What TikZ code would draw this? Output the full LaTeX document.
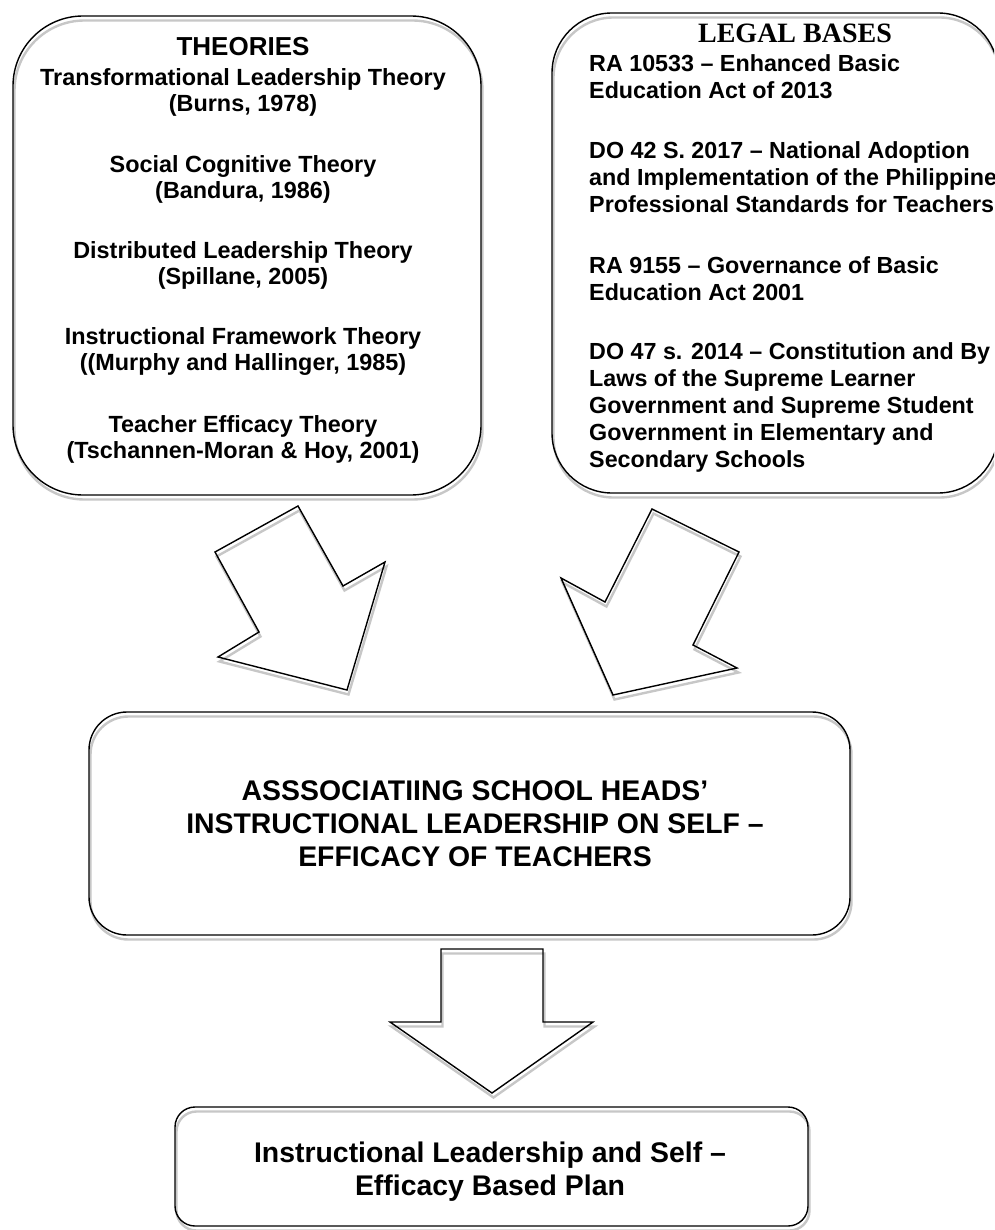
\documentclass[tikz,border=0pt]{standalone}
\usepackage{fontspec}
\setmainfont{Liberation Sans}
\newfontfamily\headserif{Liberation Serif}
\begin{document}
\begin{tikzpicture}[x=1pt,y=-1pt,
  panel/.style={draw=black, line width=1.4pt, inner sep=0pt},
  panelshadow/.style={draw=black!22, line width=2.4pt, inner sep=0pt, xshift=1.5pt, yshift=-4.5pt},
  blockarrow/.style={draw=black, line width=1.4pt, line join=miter},
  arrowshadow/.style={draw=black!22, line width=2.4pt, shift={(1.5,4.5)}},
  headsans/.style={font=\bfseries\fontsize{26}{30}\selectfont},
  headrm/.style={font=\headserif\bfseries\fontsize{28}{32}\selectfont},
  theory/.style={align=center, inner sep=0pt, font=\bfseries\fontsize{23.4}{26}\selectfont},
  legal/.style={align=left, anchor=west, inner sep=0pt, font=\bfseries\fontsize{23.3}{27}\selectfont},
  bigtext/.style={align=center, inner sep=0pt, font=\bfseries\fontsize{28.4}{33}\selectfont}
]
\useasboundingbox (0,0) rectangle (994,1230);
\clip (0,0) rectangle (994,1230);
\fill[white] (0,0) rectangle (994,1230);

% ---- theories panel ----
\node[panelshadow, rounded corners=70pt, minimum width=468pt, minimum height=479pt] (theoriesS) at (247,255.5) {};
\node[panel, rounded corners=70pt, minimum width=468pt, minimum height=479pt] (theories) at (247,255.5) {};
\node[headsans] (thead) at (243,47) {THEORIES};
\node[theory] (th1) at (243,92) {Transformational Leadership Theory\\(Burns, 1978)};
\node[theory] (th2) at (243,179) {Social Cognitive Theory\\(Bandura, 1986)};
\node[theory] (th3) at (243,265) {Distributed Leadership Theory\\(Spillane, 2005)};
\node[theory] (th4) at (243,352) {Instructional Framework Theory\\((Murphy and Hallinger, 1985)};
\node[theory] (th5) at (243,439) {Teacher Efficacy Theory\\(Tschannen-Moran \& Hoy, 2001)};

% ---- legal bases panel ----
\node[panelshadow, rounded corners=60pt, minimum width=446pt, minimum height=480pt] (legalS) at (775,253) {};
\node[panel, rounded corners=60pt, minimum width=446pt, minimum height=480pt] (legalbox) at (775,253) {};
\node[headrm] (lhead) at (795,33) {LEGAL BASES};
\node[legal] (lb1) at (589,76.5) {RA 10533 – Enhanced Basic\\Education Act of 2013};
\node[legal] (lb2) at (589,177) {DO 42 S. 2017 – National Adoption\\and Implementation of the Philippines\\Professional Standards for Teachers};
\node[legal] (lb3) at (589,278.5) {RA 9155 – Governance of Basic\\Education Act 2001};
\node[legal] (lb4) at (589,407.5) {DO 47 s. 2014 – Constitution and By\\Laws of the Supreme Learner\\Government and Supreme Student\\Government in Elementary and\\Secondary Schools};

% ---- slanted block arrows ----
\draw[arrowshadow] (298,506) -- (215,552) -- (259,632) -- (218,657) -- (347,690) -- (385,562) -- (343,586) -- cycle;
\draw[blockarrow] (298,506) -- (215,552) -- (259,632) -- (218,657) -- (347,690) -- (385,562) -- (343,586) -- cycle;
\draw[arrowshadow] (652,509) -- (739,552) -- (693,645) -- (737,668) -- (613,695) -- (561,578) -- (605,602) -- cycle;
\draw[blockarrow] (652,509) -- (739,552) -- (693,645) -- (737,668) -- (613,695) -- (561,578) -- (605,602) -- cycle;

% ---- central panel ----
\node[panelshadow, rounded corners=38pt, minimum width=761pt, minimum height=223pt] (focusS) at (469.5,823.5) {};
\node[panel, rounded corners=38pt, minimum width=761pt, minimum height=223pt] (focus) at (469.5,823.5) {};
\node[bigtext] (focustext) at (475,824) {ASSSOCIATIING SCHOOL HEADS’\\INSTRUCTIONAL LEADERSHIP ON SELF –\\EFFICACY OF TEACHERS};

% ---- downward block arrow ----
\draw[arrowshadow] (441,949) -- (543,949) -- (543,1022) -- (593,1022) -- (492,1093) -- (390,1022) -- (441,1022) -- cycle;
\draw[blockarrow] (441,949) -- (543,949) -- (543,1022) -- (593,1022) -- (492,1093) -- (390,1022) -- (441,1022) -- cycle;

% ---- output panel ----
\node[panelshadow, rounded corners=20pt, minimum width=633pt, minimum height=119pt] (planS) at (491.5,1166.5) {};
\node[panel, rounded corners=20pt, minimum width=633pt, minimum height=119pt] (plan) at (491.5,1166.5) {};
\node[bigtext] (plantext) at (490,1172) {Instructional Leadership and Self –\\Efficacy Based Plan};
\end{tikzpicture}
\end{document}
